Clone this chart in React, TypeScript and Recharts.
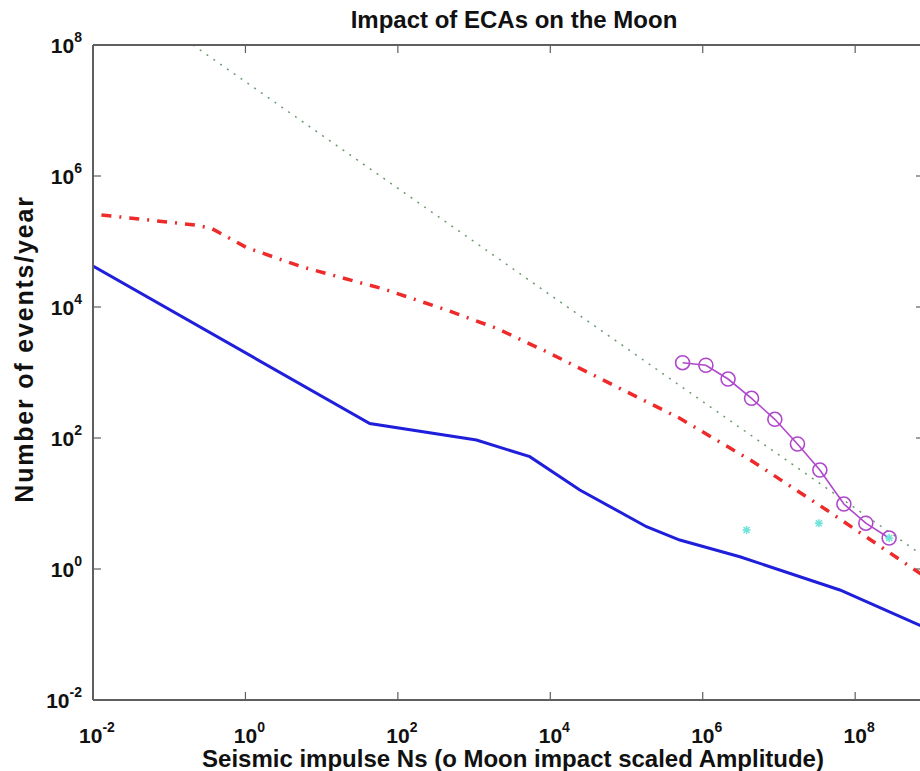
import React from 'react'
import { ComposedChart, Line, Scatter, XAxis, YAxis } from 'recharts'

// solid blue curve
const blueX = [0.01, 42.8, 1075, 5380, 24400, 183000, 500000, 3.07e6, 6.3e7, 8e8]
const blueY = [42300, 166, 93, 51.9, 16.1, 4.42, 2.77, 1.54, 0.478, 0.13]

// red dash-dot curve
const redX = [0.0129, 0.216, 0.358, 1.03, 5.43, 67.3, 434, 1970, 8910, 40400, 183000, 500000, 4.58e6, 4.22e7, 8e8]
const redY = [254000, 179000, 159000, 81000, 41200, 18600, 9000, 4730, 2080, 863, 358, 200, 43.4, 7.96, 0.78]

// dotted power law
const dotX = [0.205, 8e8]
const dotY = [1e8, 1.56]

// Moon impact scaled amplitude (circles)
const moonX = [5.44e5, 1.1e6, 2.15e6, 4.37e6, 8.83e6, 1.75e7, 3.44e7, 7.11e7, 1.38e8, 2.79e8]
const moonY = [1410, 1290, 795, 404, 193, 81, 32.4, 9.8, 5.0, 2.97]

// cyan stars
const starX = [3.76e6, 3.34e7, 2.79e8]
const starY = [3.94, 5.0, 2.97]

const xTicks = [1e-2, 1e0, 1e2, 1e4, 1e6, 1e8]
const yTicks = [1e-2, 1e0, 1e2, 1e4, 1e6, 1e8]

const zip = (xs: number[], ys: number[]) => xs.map((x, i) => ({ x, y: ys[i] }))
const blue = zip(blueX, blueY)
const red = zip(redX, redY)
const dotted = zip(dotX, dotY)
const moon = zip(moonX, moonY)
const stars = zip(starX, starY)

const AXIS = '#5f5f5f'
const FONT = '"Liberation Sans", Arial, Helvetica, sans-serif'
const exp = (v: number) => String(Math.round(Math.log10(v)))

const BottomTick = ({ x, y, payload }: any) => (
  <g>
    <line x1={x} x2={x} y1={y} y2={y - 8} stroke={AXIS} strokeWidth={1.2} />
    <text x={x + 4} y={y + 43} textAnchor="middle" fontFamily={FONT} fontWeight="bold" fontSize={21} fill="#111">
      10<tspan dy={-11} fontSize={14}>{exp(payload.value)}</tspan>
    </text>
  </g>
)

const TopTick = ({ x, y }: any) => <line x1={x} x2={x} y1={y} y2={y + 8} stroke={AXIS} strokeWidth={1.2} />

const LeftTick = ({ x, y, payload }: any) => (
  <g>
    <line x1={x} x2={x + 8} y1={y} y2={y} stroke={AXIS} strokeWidth={1.2} />
    <text x={x - 11} y={y + 8} textAnchor="end" fontFamily={FONT} fontWeight="bold" fontSize={21} fill="#111">
      10<tspan dy={-11} fontSize={14}>{exp(payload.value)}</tspan>
    </text>
  </g>
)

const RightTick = ({ x, y }: any) => <line x1={x} x2={x - 8} y1={y} y2={y} stroke={AXIS} strokeWidth={1.2} />

const Star = ({ cx, cy }: any) => (
  <g stroke="#6fe3da" strokeWidth={1.6}>
    <line x1={cx - 4} x2={cx + 4} y1={cy} y2={cy} />
    <line x1={cx} x2={cx} y1={cy - 4} y2={cy + 4} />
    <line x1={cx - 3} x2={cx + 3} y1={cy - 3} y2={cy + 3} />
    <line x1={cx - 3} x2={cx + 3} y1={cy + 3} y2={cy - 3} />
  </g>
)

const textStyle: React.CSSProperties = {
  position: 'absolute', fontFamily: FONT, fontWeight: 'bold', color: '#111', whiteSpace: 'nowrap',
}

export default function App() {
  return (
    <div style={{ position: 'absolute', left: 0, top: 0, width: 920, height: 771, overflow: 'hidden', background: '#fff' }}>
      <ComposedChart width={960} height={771} margin={{ top: 0, right: 35, bottom: 0, left: 0 }}>
        <XAxis xAxisId="b" dataKey="x" type="number" scale="log" domain={[0.01, 8e8]} allowDataOverflow
          ticks={xTicks} tick={<BottomTick />} tickSize={0} tickMargin={0} tickLine={false}
          axisLine={{ stroke: AXIS, strokeWidth: 2 }} height={71} interval={0} />
        <XAxis xAxisId="t" orientation="top" dataKey="x" type="number" scale="log" domain={[0.01, 8e8]} allowDataOverflow
          ticks={xTicks} tick={<TopTick />} tickSize={0} tickMargin={0} tickLine={false}
          axisLine={{ stroke: AXIS, strokeWidth: 2 }} height={45} interval={0} />
        <YAxis yAxisId="l" type="number" scale="log" domain={[0.01, 1e8]} allowDataOverflow
          ticks={yTicks} tick={<LeftTick />} tickSize={0} tickMargin={0} tickLine={false}
          axisLine={{ stroke: AXIS, strokeWidth: 2 }} width={93} interval={0} />
        <YAxis yAxisId="r" orientation="right" type="number" scale="log" domain={[0.01, 1e8]} allowDataOverflow
          ticks={yTicks} tick={<RightTick />} tickSize={0} tickMargin={0} tickLine={false}
          axisLine={{ stroke: AXIS, strokeWidth: 2 }} width={1} interval={0} />

        <Line xAxisId="b" yAxisId="l" data={dotted} dataKey="y" stroke="#6c9a6e" strokeWidth={1.5}
          strokeDasharray="2 6.3" dot={false} isAnimationActive={false} />
        <Line xAxisId="b" yAxisId="l" data={red} dataKey="y" stroke="#ee2a2a" strokeWidth={3.5}
          strokeDasharray="10 8 2 8" dot={false} isAnimationActive={false} />
        <Line xAxisId="b" yAxisId="l" data={blue} dataKey="y" stroke="#1f1fdb" strokeWidth={3}
          dot={false} isAnimationActive={false} />
        <Scatter xAxisId="b" yAxisId="l" data={stars} dataKey="y" shape={<Star />} isAnimationActive={false} />
        <Line xAxisId="b" yAxisId="l" data={moon} dataKey="y" stroke="#b048cc" strokeWidth={1.6}
          dot={{ r: 7, stroke: '#b048cc', strokeWidth: 1.6, fill: 'none' }} isAnimationActive={false} />
      </ComposedChart>

      <div style={{ ...textStyle, left: 514, top: 20, fontSize: 24, transform: 'translate(-50%, -50%)' }}>
        Impact of ECAs on the Moon
      </div>
      <div style={{ ...textStyle, left: 513, top: 759, fontSize: 24, transform: 'translate(-50%, -50%)' }}>
        Seismic impulse Ns (o Moon impact scaled Amplitude)
      </div>
      <div style={{ ...textStyle, left: 24, top: 349, fontSize: 25, letterSpacing: 1.8, transform: 'translate(-50%, -50%) rotate(-90deg)' }}>
        Number of events/year
      </div>
    </div>
  )
}
